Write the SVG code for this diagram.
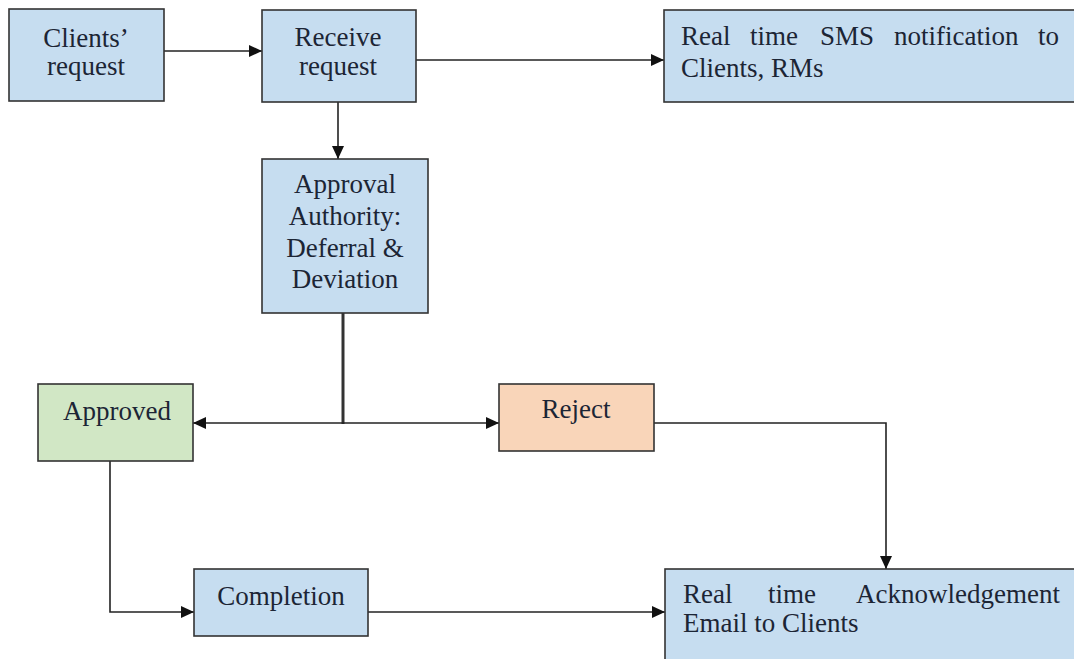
<svg xmlns="http://www.w3.org/2000/svg" width="1074" height="659" viewBox="0 0 1074 659">
<style>
.box{stroke:#333;stroke-width:1.6}
.blue{fill:#c6ddf0}
.green{fill:#d1e7c5}
.orange{fill:#f9d5b9}
text{font-family:"Liberation Serif","Times New Roman",serif;font-size:27px;fill:#1c2535}
.c{text-anchor:middle}
.ln{fill:none;stroke:#222;stroke-width:1.6}
</style>
<defs>
<marker id="ah" viewBox="0 0 13 12" refX="13" refY="6" markerWidth="13" markerHeight="12" markerUnits="userSpaceOnUse" orient="auto">
<path d="M0,0 L13,6 L0,12 z" fill="#111"/>
</marker>
</defs>
<rect width="1074" height="659" fill="#fff"/>
<g id="connectors">
<line class="ln" x1="164" y1="51" x2="262" y2="51" marker-end="url(#ah)"/>
<line class="ln" x1="416" y1="60" x2="664" y2="60" marker-end="url(#ah)"/>
<line class="ln" x1="338" y1="102" x2="338" y2="159" marker-end="url(#ah)"/>
<line x1="343" y1="313" x2="343" y2="424" stroke="#333" stroke-width="3"/>
<line class="ln" x1="343" y1="423" x2="193" y2="423" marker-end="url(#ah)"/>
<line class="ln" x1="343" y1="423" x2="499" y2="423" marker-end="url(#ah)"/>
<polyline class="ln" points="654,423 886,423 886,569" marker-end="url(#ah)"/>
<polyline class="ln" points="110,461 110,612 194,612" marker-end="url(#ah)"/>
<line class="ln" x1="368" y1="612" x2="665" y2="612" marker-end="url(#ah)"/>
</g>
<g id="clients-request">
<rect class="box blue" x="9" y="9" width="155" height="92"/>
<text class="c" x="86" y="47">Clients’</text>
<text class="c" x="86" y="75">request</text>
</g>
<g id="receive-request">
<rect class="box blue" x="262" y="10" width="154" height="92"/>
<text class="c" x="338" y="46">Receive</text>
<text class="c" x="338" y="75">request</text>
</g>
<g id="sms-notification">
<rect class="box blue" x="664" y="10" width="420" height="92"/>
<text x="681" y="45">Real</text>
<text x="750" y="45">time</text>
<text x="820" y="45">SMS</text>
<text x="894" y="45">notification</text>
<text x="1038" y="45">to</text>
<text x="681" y="77">Clients, RMs</text>
</g>
<g id="approval-authority">
<rect class="box blue" x="262" y="159" width="166" height="154"/>
<text class="c" x="345" y="193">Approval</text>
<text class="c" x="345" y="225">Authority:</text>
<text class="c" x="345" y="257">Deferral &amp;</text>
<text class="c" x="345" y="288">Deviation</text>
</g>
<g id="approved">
<rect class="box green" x="38" y="384" width="155" height="77"/>
<text class="c" x="117" y="420">Approved</text>
</g>
<g id="reject">
<rect class="box orange" x="499" y="384" width="155" height="67"/>
<text class="c" x="576" y="418">Reject</text>
</g>
<g id="completion">
<rect class="box blue" x="194" y="569" width="174" height="67"/>
<text class="c" x="281" y="605">Completion</text>
</g>
<g id="acknowledgement-email">
<rect class="box blue" x="665" y="569" width="420" height="100"/>
<text x="683" y="603">Real</text>
<text x="768" y="603">time</text>
<text x="856" y="603">Acknowledgement</text>
<text x="683" y="632">Email to Clients</text>
</g>
</svg>
